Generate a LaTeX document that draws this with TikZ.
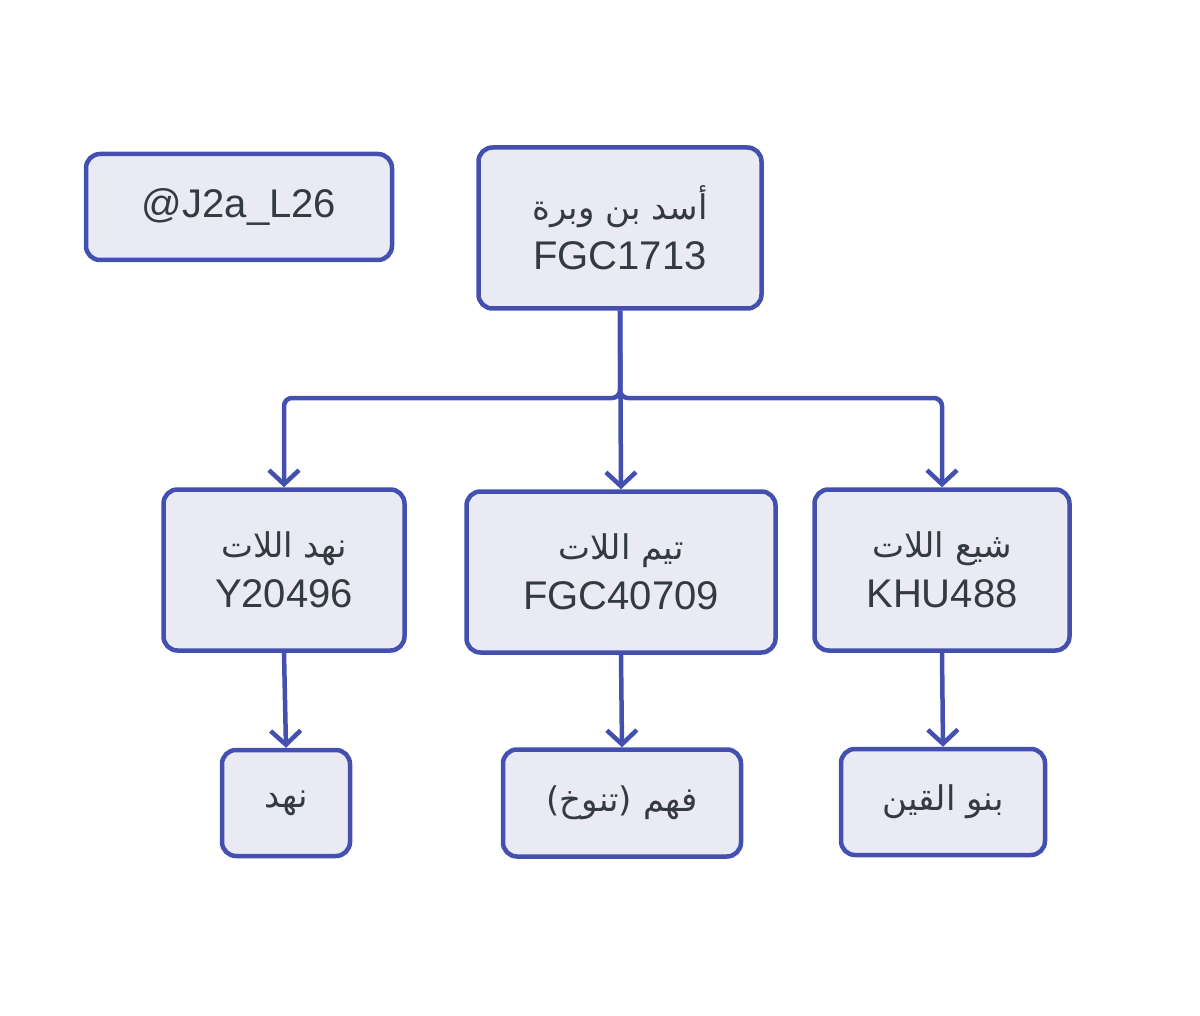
\documentclass[tikz,border=0pt]{standalone}
\usepackage{fontspec}
\setmainfont{Liberation Sans}
\newfontfamily\arfont[Script=Arabic]{DejaVu Sans}
\usetikzlibrary{arrows.meta}
\TeXXeTstate=1
\newcommand{\ar}[1]{{\arfont\fontsize{34}{40}\selectfont\beginR #1\endR}}
\definecolor{ln}{HTML}{4350AF}
\definecolor{bx}{HTML}{EAEAF4}
\definecolor{tx}{HTML}{333A40}
\begin{document}
\begin{tikzpicture}[x=1pt,y=-1pt,
  box/.style={draw=ln,fill=bx,line width=4.5pt,rounded corners=14pt,align=center,text=tx,font=\fontsize{40}{50}\selectfont,inner sep=0pt},
  con/.style={draw=ln,line width=4.5pt,rounded corners=8pt,-{Straight Barb[length=14pt,width=30pt,line width=4.5pt]}}]
\useasboundingbox (0,0) rectangle (1200,1016);
\node[box,minimum width=306pt,minimum height=106pt] (tag) at (239,207) {@J2a\_L26};
\node[box,minimum width=283pt,minimum height=161pt] (top) at (620,228) {\ar{أسد بن وبرة}\\FGC1713};
\node[box,minimum width=241pt,minimum height=161pt] (l) at (284,570) {\ar{نهد اللات}\\Y20496};
\node[box,minimum width=309pt,minimum height=161pt] (m) at (621,572) {\ar{تيم اللات}\\FGC40709};
\node[box,minimum width=255pt,minimum height=161pt] (r) at (942,570) {\ar{شيع اللات}\\KHU488};
\node[box,minimum width=128pt,minimum height=106pt] (lb) at (286,803) {\ar{نهد}};
\node[box,minimum width=238pt,minimum height=107pt] (mb) at (622,803) {\ar{فهم (تنوخ)}};
\node[box,minimum width=204pt,minimum height=106pt] (rb) at (943,802) {\ar{بنو القين}};
\draw[con] (top.south) -- (620,398) -| (l.north);
\draw[con] (top.south) -- (m.north);
\draw[con] (top.south) -- (620,398) -| (r.north);
\draw[con] (l.south) -- (lb.north);
\draw[con] (m.south) -- (mb.north);
\draw[con] (r.south) -- (rb.north);
\end{tikzpicture}
\end{document}
